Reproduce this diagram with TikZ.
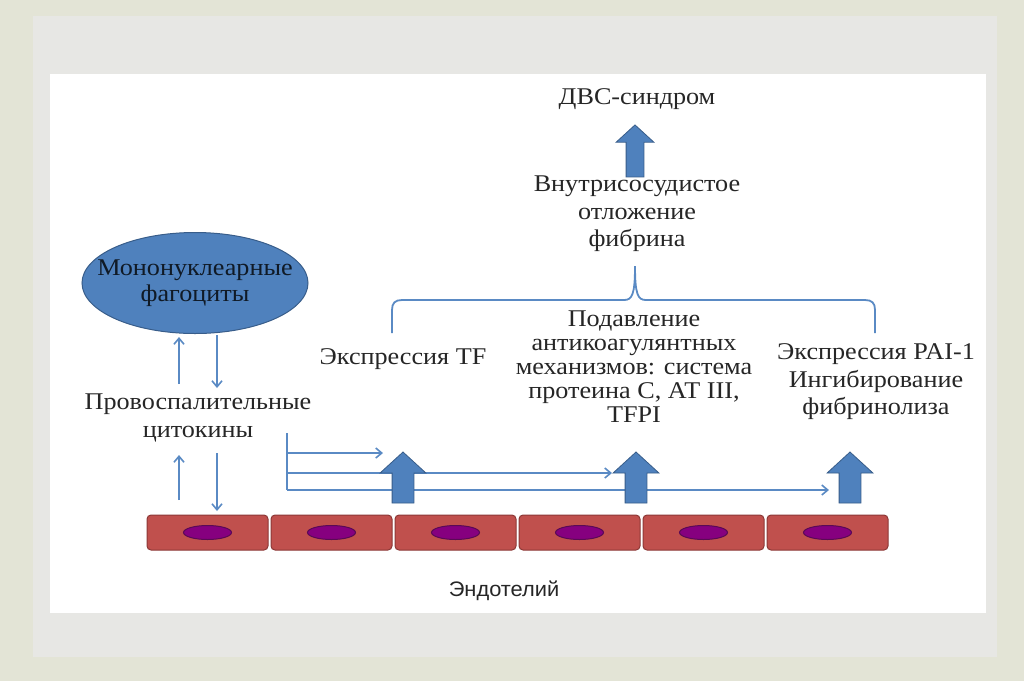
\documentclass[tikz,border=0pt]{standalone}
\usepackage{fontspec}
\setmainfont{Liberation Serif}[FakeStretch=1.09]
\newfontfamily\endofont{Liberation Sans}[FakeStretch=1.04]
\usetikzlibrary{arrows.meta, shapes.geometric, shapes.arrows, positioning}

%%% Farben
\definecolor{rahmen}{HTML}{E3E4D6}
\definecolor{flaeche}{HTML}{E7E7E4}
\definecolor{textgrau}{HTML}{262626}
\definecolor{blau}{HTML}{4F81BD}
\definecolor{blaurand}{HTML}{385D8A}
\definecolor{linienblau}{HTML}{5A8AC4}
\definecolor{zellrot}{HTML}{C0504D}
\definecolor{zellrand}{HTML}{8C3836}
\definecolor{kernlila}{HTML}{86007F}
\definecolor{kernrand}{HTML}{5A0A55}

\begin{document}
\begin{tikzpicture}[x=1pt, y=-1pt,
	txt/.style = {align=center, inner sep=0pt, text=textgrau, font=\fontsize{24}{27.5}\selectfont},
	linie/.style = {draw=linienblau, line width=1.6pt},
	pfeil/.style = {linie, -{Straight Barb[length=6pt, width=10pt]}},
	blockpfeil/.style = {single arrow, shape border rotate=90, fill=blau, draw=blaurand, line width=0.8pt,
		inner sep=10.5pt, minimum height=51pt, single arrow head extend=12pt, single arrow tip angle=95},
	zelle/.style = {rounded corners=4pt, fill=zellrot, draw=zellrand, line width=1pt,
		minimum width=121pt, minimum height=35pt, inner sep=0pt},
	kern/.style = {ellipse, fill=kernlila, draw=kernrand, line width=1pt, minimum width=48pt, minimum height=14pt, inner sep=0pt}]

%%% Hintergrund x=1024 y=681
\useasboundingbox (0,0) rectangle (1024,681);
\fill[rahmen] (0,0) rectangle (1024,681);
\fill[flaeche] (33,16) rectangle (997,657);
\fill[white] (50,74) rectangle (986,613);

%%% Endothel
\foreach \i in {1,...,6} {
	\node[zelle] (zelle\i) at (207.5+124*\i-124,532.5) {};
	\node[kern] (kern\i) at (zelle\i) {};
}
\node[font=\endofont\fontsize{21}{24}\selectfont, text=textgrau, inner sep=0pt] (endo) at (504,591) {Эндотелий};

%%% Fagozyten und Zytokine
\node[ellipse, fill=blau, draw=blaurand, line width=1pt, minimum width=226pt, minimum height=101pt, inner sep=0pt] (mono) at (195,283) {};
\node[text=black!80!blau, align=center, inner sep=0pt, font=\fontsize{24}{26}\selectfont] (monotxt) at (mono) {Мононуклеарные\\фагоциты};
\node[txt] (zyto) at (198,418) {Провоспалительные\\цитокины};

\coordinate (mo1) at (179,337);
\coordinate (mo2) at (217,335);
\coordinate (zo1) at (179,384);
\coordinate (zo2) at (217,388);
\coordinate (zu1) at (179,455);
\coordinate (zu2) at (217,453);
\coordinate (ze1) at (179,500);
\coordinate (ze2) at (217,511);
\draw[pfeil] (zo1) -- (mo1);
\draw[pfeil] (mo2) -- (zo2);
\draw[pfeil] (ze1) -- (zu1);
\draw[pfeil] (zu2) -- (ze2);

%%% Verteiler zu den Effekten
\coordinate (v1) at (287,433);
\coordinate (v2) at (287,490);
\coordinate (tfin) at (383,453);
\coordinate (acin) at (612,473);
\coordinate (paiin) at (829,490);
\draw[linie] (v1) -- (v2);
\draw[pfeil] (v1 |- tfin) -- (tfin);
\draw[pfeil] (v1 |- acin) -- (acin);
\draw[pfeil] (v2) -- (paiin);

%%% Blockpfeile
\node[blockpfeil] (uptf) at (403,482.5) {};
\node[blockpfeil] (upac) at (636,482.5) {};
\node[blockpfeil] (uppai) at (850,482.5) {};
\node[blockpfeil, inner sep=8.5pt, minimum height=52pt, single arrow head extend=10pt] (updvs) at (635,155) {};

%%% Effekte
\node[txt] (tf) at (403,359) {Экспрессия TF};
\node[txt, font=\fontsize{24}{24}\selectfont] (ac) at (634,367) {Подавление\\антикоагулянтных\\механизмов: система\\протеина С, АТ III,\\TFPI};
\node[txt] (pai) at (876,382) {Экспрессия PAI-1\\Ингибирование\\фибринолиза};

%%% Klammer
\draw[linie, line width=1.8pt] (392,333) -- (392,310) .. controls (392,303) and (395,300) .. (402,300) -- (624,300)
	.. controls (632,300) and (635,295) .. (635,266) .. controls (635,295) and (638,300) .. (646,300)
	-- (865,300) .. controls (872,300) and (875,303) .. (875,310) -- (875,333);

%%% Fibrin und DIC
\node[txt] (fib) at (637,214) {Внутрисосудистое\\отложение\\фибрина};
\node[txt] (dvs) at (637,99) {ДВС-синдром};
\end{tikzpicture}
\end{document}
